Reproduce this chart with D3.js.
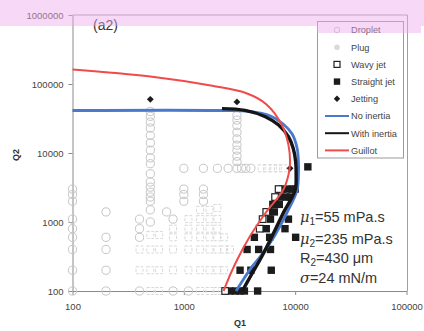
<!DOCTYPE html>
<html lang="en">
<head>
<meta charset="UTF-8"/>
<title>Q1 - Q2 flow map</title>
<script src="https://cdn.jsdelivr.net/npm/d3@7"></script>
<style>
body { margin: 0; background: #fff; overflow: hidden; }
svg { display: block; font-family: "Liberation Sans", Arial, sans-serif; }
.axis path, .axis line { stroke: #8a8a8a; }
.axis text { font-size: 9.5px; fill: #444; }
.legend text { font-size: 9.2px; fill: #444; }
.label { font-size: 9px; font-weight: bold; fill: #333; }
.note { font-size: 14.5px; fill: #333; }
</style>
</head>
<body>
<svg width="424" height="331"></svg>
<script>
// ticks
const xTicks = [100, 1000, 10000, 100000];
const yTicks = [100, 1000, 10000, 100000, 1000000];

// experimental points [Q1, Q2]
const droplet = [
  [100,3000],[100,2500],[100,2000],[100,1100],[100,800],[100,600],[100,400],[100,200],[100,100],
  [200,1400],[200,600],[200,400],[200,200],[200,100],
  [400,1100],[400,800],[400,600],[400,100],
  [500,40000],[500,34000],[500,28000],[500,23000],[500,18000],[500,14000],[500,11000],[500,8500],
  [500,7000],[500,5000],[500,3800],[500,3200],[500,2700],[500,2300],[500,2000],[500,1500],[500,1000],
  [700,1400],[800,1100],[800,100],[1100,100],
  [1000,6000],[1000,3000],[1000,2500],[1000,2000],
  [1500,6000],[1500,3000],[1500,2500],[1500,2000],
  [2000,6000],[2500,6000],
  [3000,35000],[3000,30000],[3000,25000],[3000,20000],[3000,16000],[3000,13000],[3000,11000],
  [3000,9000],[3000,7500],[3000,6000],[3300,6000],[3600,6000],[4000,6000]
];
const plug = [
  [500,100],[600,100],[1400,100],[1700,100],[2000,100],[2200,100],
  [400,200],[500,200],[600,200],[800,200],[1100,200],[1400,200],[1700,200],[2000,200],[2300,200],
  [400,400],[500,400],[600,400],[800,400],[1100,400],[1400,400],[1700,400],[2000,400],[2300,400],[2600,400],
  [500,650],[600,650],[800,600],[1100,600],[1400,600],[1700,600],[2000,600],[2300,600],
  [800,800],[1100,800],[1400,800],[1700,800],[2000,800],
  [1100,1100],[1400,1100],[1700,1100],[2000,1100],
  [1400,1500],[1700,1500],[2000,1600],
  [5000,6000],[5600,6000],[6300,6000],[7000,6000],[7800,6000]
];
const wavyJet = [[2350,100],[4800,800],[5100,1100],[5500,1400],[6600,2300],[7100,3000]];
const straightJet = [
  [2600,100],[2900,100],[3200,100],[3500,100],[4600,100],
  [3200,200],[4000,200],[6100,200],
  [3700,400],[4700,400],[6000,400],
  [4300,600],[5900,600],[10100,600],
  [5500,800],[8100,800],
  [6000,1100],[8700,1100],
  [5800,1400],[6500,1400],
  [6300,1800],[7200,1800],
  [7400,2300],[8300,2300],[9000,2300],
  [7700,3000],[8500,3000],[9400,3000],[10000,3000],
  [13000,6300]
];
const jetting = [[500,60000],[3000,55000],[9000,6000]];

// model curves [Q1, Q2]
const noInertia = [[100,41300],[2100,41300],[3900,40000],[6000,34300],[7800,26300],[9400,18800],
  [10400,11800],[10700,7400],[10700,4800],[10400,2900],[8400,1340],[6600,650],[5000,333],
  [4100,225],[3400,144],[2950,100]];
const withInertia = [[2200,44000],[3550,41500],[5400,33600],[7100,25400],[8700,17200],[9600,11700],
  [10100,7500],[10200,4800],[10000,2900],[7800,1340],[6400,690],[5000,314],[3950,161],[3350,100]];
const guillot = [[100,162000],[500,128000],[1800,94000],[3600,74000],[5500,51000],[7600,25400],
  [8700,13100],[9000,7400],[8700,4800],[7800,2900],[5400,1340],[3900,610],[2900,250],[2350,115],[2280,100]];

const svg = d3.select('svg');
const plotL = 72.5, plotR = 406.5, plotT = 15, plotB = 291;

const x = d3.scaleLog().domain([100, 100000]).range([plotL, plotR]);
const y = d3.scaleLog().domain([100, 1000000]).range([plotB, plotT]);

// frame (top / right)
svg.append('path')
  .attr('d', `M${plotL},${plotT}H${plotR + 1}V${plotB}`)
  .attr('fill', 'none').attr('stroke', '#a0a0a0');

svg.append('g').attr('class', 'axis')
  .attr('transform', `translate(${plotL},0)`)
  .call(d3.axisLeft(y).tickValues(yTicks).tickFormat(d3.format('d')).tickSize(4).tickPadding(5).tickSizeOuter(0));

svg.append('g').attr('class', 'axis')
  .attr('transform', `translate(0,${plotB})`)
  .call(d3.axisBottom(x).tickValues(xTicks).tickFormat(d3.format('d')).tickSize(4).tickPadding(8).tickSizeOuter(0));

// markers
const dia = d3.symbol().type(d3.symbolDiamond2);

svg.append('g').selectAll('rect').data(plug).join('rect')
  .attr('x', d => x(d[0]) - 3.5).attr('y', d => y(d[1]) - 3.5)
  .attr('width', 7).attr('height', 7)
  .attr('fill', 'none').attr('stroke', '#d8d8d8').attr('stroke-dasharray', '3,1.5');

svg.append('g').selectAll('circle').data(droplet).join('circle')
  .attr('cx', d => x(d[0])).attr('cy', d => y(d[1])).attr('r', 4.1)
  .attr('fill', 'none').attr('stroke', '#c6c6c6');

svg.append('g').selectAll('rect').data(straightJet).join('rect')
  .attr('x', d => x(d[0]) - 3.7).attr('y', d => y(d[1]) - 3.7)
  .attr('width', 7.4).attr('height', 7.4).attr('fill', '#1c1c1c');

svg.append('g').selectAll('rect').data(wavyJet).join('rect')
  .attr('x', d => x(d[0]) - 3.3).attr('y', d => y(d[1]) - 3.3)
  .attr('width', 6.6).attr('height', 6.6)
  .attr('fill', '#fff').attr('stroke', '#222').attr('stroke-width', 1.2);

svg.append('g').selectAll('path').data(jetting).join('path')
  .attr('transform', d => `translate(${x(d[0])},${y(d[1])})`)
  .attr('d', dia.size(30)).attr('fill', '#1c1c1c');

// curves
const line = d3.line().x(d => x(d[0])).y(d => y(d[1])).curve(d3.curveCatmullRom.alpha(0.5));
svg.append('path').datum(noInertia).attr('d', line)
  .attr('fill', 'none').attr('stroke', '#4a78cc').attr('stroke-width', 2.8);
svg.append('path').datum(withInertia).attr('d', line)
  .attr('fill', 'none').attr('stroke', '#151515').attr('stroke-width', 3.4);
svg.append('path').datum(guillot).attr('d', line)
  .attr('fill', 'none').attr('stroke', '#f04a4a').attr('stroke-width', 2);

// axis titles
svg.append('text').attr('class', 'label')
  .attr('transform', 'translate(19,155) rotate(-90)')
  .attr('text-anchor', 'middle').text('Q2');
svg.append('text').attr('class', 'label')
  .attr('x', 240).attr('y', 326).attr('text-anchor', 'middle').text('Q1');

svg.append('text').attr('x', 93).attr('y', 30)
  .style('font-size', '14px').style('fill', '#333').text('(a2)');

// property notes
const notes = svg.append('g').attr('class', 'note');
function note(yy, parts) {
  const t = notes.append('text').attr('x', 300).attr('y', yy);
  parts.forEach(p => {
    const s = t.append('tspan').text(p.t);
    if (p.sub) s.style('font-size', '10px').attr('dy', 3);
    if (p.up) s.attr('dy', -3);
    if (p.it) s.style('font-style', 'italic').style('font-family', '"DejaVu Serif", serif');
  });
}
note(222, [{t: 'μ', it: 1}, {t: '1', sub: 1}, {t: '=55 mPa.s', up: 1}]);
note(244, [{t: 'μ', it: 1}, {t: '2', sub: 1}, {t: '=235 mPa.s', up: 1}]);
note(263, [{t: 'R'}, {t: '2', sub: 1}, {t: '=430 μm', up: 1}]);
note(283, [{t: 'σ', it: 1}, {t: '=24 mN/m'}]);

// legend
const lg = svg.append('g').attr('class', 'legend');
lg.append('rect').attr('x', 317.5).attr('y', 21.5).attr('width', 86).attr('height', 136.5)
  .attr('fill', '#fff').attr('stroke', '#9a9a9a');
const items = ['Droplet', 'Plug', 'Wavy jet', 'Straight jet', 'Jetting', 'No inertia', 'With inertia', 'Guillot'];
items.forEach((name, i) => {
  const cy = 30 + i * 17.2;
  const mx = 337;
  if (i === 0) lg.append('circle').attr('cx', mx).attr('cy', cy).attr('r', 2.8).attr('fill', 'none').attr('stroke', '#c6c6c6');
  if (i === 1) lg.append('circle').attr('cx', mx).attr('cy', cy).attr('r', 2.8).attr('fill', '#dadada');
  if (i === 2) lg.append('rect').attr('x', mx - 3).attr('y', cy - 3).attr('width', 6).attr('height', 6)
    .attr('fill', '#fff').attr('stroke', '#222').attr('stroke-width', 1.2);
  if (i === 3) lg.append('rect').attr('x', mx - 3.2).attr('y', cy - 3.2).attr('width', 6.4).attr('height', 6.4).attr('fill', '#1c1c1c');
  if (i === 4) lg.append('path').attr('transform', `translate(${mx},${cy})`).attr('d', dia.size(26)).attr('fill', '#1c1c1c');
  if (i >= 5) lg.append('line').attr('x1', 325).attr('x2', 349).attr('y1', cy).attr('y2', cy)
    .attr('stroke', ['#4a78cc', '#151515', '#f04a4a'][i - 5]).attr('stroke-width', 2);
  lg.append('text').attr('x', 351).attr('y', cy + 3.3).text(name);
});

// pink highlight band over the top
svg.append('path')
  .attr('d', 'M0,0H424V26H421V33H317V26H0Z')
  .attr('fill', 'rgb(238,170,238)').attr('fill-opacity', 0.45);
</script>
</body>
</html>
